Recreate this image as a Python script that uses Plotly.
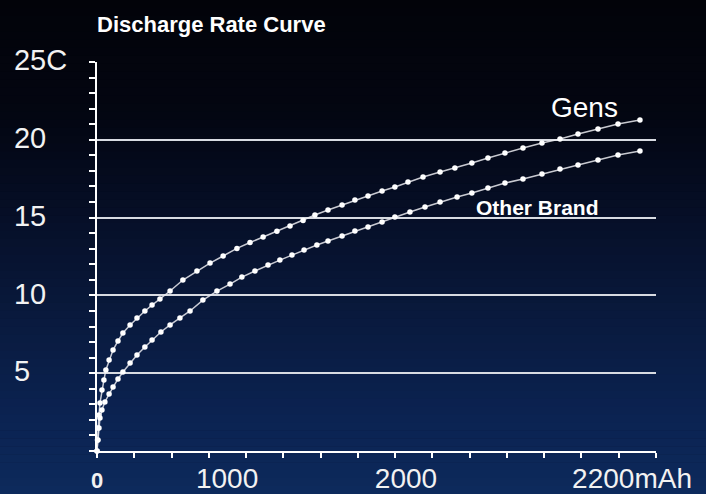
import plotly.graph_objects as go

# ---- data ----
gens_mah = [0, 2, 4, 8, 12, 20, 28, 36, 49, 65, 85, 105, 134, 162, 194, 223, 255, 296,
            348, 405, 458, 511, 567, 620, 673, 729, 782, 835, 883, 936, 993, 1045, 1098,
            1155, 1207, 1260, 1321, 1390, 1450, 1519, 1584, 1653, 1726, 1803, 1876, 1949,
            2030, 2111, 2200]
gens_rate = [0, 0.70, 1.48, 2.31, 3.08, 3.92, 4.56, 5.21, 5.85, 6.49, 7.07, 7.58, 8.10, 8.55,
             9.00, 9.38, 9.77, 10.28, 10.99, 11.57, 12.08, 12.53, 13.02, 13.40, 13.76, 14.12,
             14.46, 14.82, 15.17, 15.49, 15.81, 16.13, 16.39, 16.71, 16.97, 17.29, 17.61, 17.93,
             18.19, 18.51, 18.83, 19.15, 19.47, 19.79, 20.05, 20.37, 20.69, 21.02, 21.27]

other_mah = [0, 4, 8, 12, 20, 32, 49, 65, 85, 105, 134, 162, 194, 223, 259, 296, 336, 377,
             429, 486, 539, 587, 640, 693, 741, 790, 839, 891, 936, 993, 1045, 1098, 1155,
             1207, 1268, 1329, 1390, 1459, 1519, 1584, 1653, 1726, 1803, 1876, 1949, 2030,
             2111, 2200]
other_rate = [0, 0.71, 1.48, 2.12, 2.63, 3.15, 3.66, 4.11, 4.63, 5.08, 5.66, 6.17, 6.68, 7.13,
              7.65, 8.10, 8.55, 9.00, 9.70, 10.28, 10.73, 11.18, 11.57, 11.95, 12.27, 12.59,
              12.92, 13.24, 13.50, 13.82, 14.14, 14.40, 14.72, 15.04, 15.36, 15.68, 16.00,
              16.32, 16.58, 16.90, 17.22, 17.48, 17.80, 18.12, 18.38, 18.70, 19.02, 19.28]

y_tick_vals = [5, 10, 15, 20, 25]
y_tick_text = ["5", "10", "15", "20", "25C"]
x_tick_vals = [0, 527, 1252, 2168]          # label positions as drawn in the picture
x_tick_text = ["0", "1000", "2000", "2200mAh"]

series_names = ["Gens", "Other Brand"]

# ---- layout constants ----
W, H = 706, 494
L, R, T, B = 97, 50, 62, 43
X_MAX = 2265
FONT = "Liberation Sans, Arial, sans-serif"
WHITE = "#f2f2f2"

fig = go.Figure()

line_style = dict(color="rgba(235,235,240,0.85)", width=1.5)
marker_style = dict(color="#ffffff", size=5.5, line=dict(width=0))

fig.add_trace(go.Scatter(x=gens_mah, y=gens_rate, mode="lines+markers",
                         name=series_names[0], line=line_style, marker=marker_style,
                         cliponaxis=False))
fig.add_trace(go.Scatter(x=other_mah, y=other_rate, mode="lines+markers",
                         name=series_names[1], line=line_style, marker=marker_style,
                         cliponaxis=False))

# background vertical gradient (decoration)
stops = [(0, (2, 3, 9)), (120, (3, 6, 18)), (220, (6, 15, 40)),
         (320, (9, 26, 62)), (420, (11, 35, 82)), (494, (13, 42, 92))]
def col_at(py):
    for (p0, c0), (p1, c1) in zip(stops[:-1], stops[1:]):
        if p0 <= py <= p1:
            t = (py - p0) / (p1 - p0)
            return "rgb(%d,%d,%d)" % tuple(round(a + (b - a) * t) for a, b in zip(c0, c1))
    return "rgb(%d,%d,%d)" % stops[-1][1]

pw, ph = W - L - R, H - T - B
shapes = []
n = 62
for i in range(n):
    py0 = H * i / n
    py1 = H * (i + 1) / n + 0.6
    shapes.append(dict(type="rect", xref="paper", yref="paper", layer="below",
                       x0=-L / pw, x1=1 + R / pw,
                       y0=(H - B - py1) / ph, y1=(H - B - py0) / ph,
                       fillcolor=col_at((py0 + py1) / 2), line=dict(width=0)))

ghost = "<span style='color:rgba(0,0,0,0)'>%s</span>"
y_text_aligned = ["5" + ghost % "5C", "10" + ghost % "C", "15" + ghost % "C",
                  "20" + ghost % "C", "25C"]
x_text_styled = ["<b><span style='font-size:22px'>%s</span></b>" % x_tick_text[0]] + x_tick_text[1:]

fig.update_layout(
    width=W, height=H,
    margin=dict(l=L, r=R, t=T, b=B, pad=0),
    paper_bgcolor="rgb(2,3,9)",
    plot_bgcolor="rgba(0,0,0,0)",
    showlegend=False,
    shapes=shapes,
    font=dict(family=FONT, color=WHITE),
    title=dict(text="<b>Discharge Rate Curve</b>", x=97 / W, xanchor="left",
               y=1 - 24 / H, yanchor="middle", yref="container",
               font=dict(size=22, color="#ffffff", family=FONT)),
    xaxis=dict(range=[0, X_MAX], showgrid=False, zeroline=False,
               showline=True, linecolor="#ffffff", linewidth=2,
               tickmode="array", tickvals=x_tick_vals, ticktext=x_text_styled,
               ticks="outside", ticklen=5, tickcolor="rgba(0,0,0,0)",
               ticklabelstandoff=-4,
               tickfont=dict(size=28, color=WHITE, family=FONT),
               minor=dict(tickmode="linear", tick0=0, dtick=X_MAX / 15, ticks="outside",
                          ticklen=5, tickwidth=2, tickcolor="#ffffff", showgrid=False),
               automargin=False, fixedrange=True),
    yaxis=dict(range=[0, 25], showgrid=True, gridcolor="#d8dbe2", gridwidth=2,
               zeroline=False, showline=True, linecolor="#ffffff", linewidth=2,
               tickmode="array", tickvals=y_tick_vals, ticktext=y_text_aligned,
               ticks="outside", ticklen=6, tickwidth=2, tickcolor="#ffffff",
               ticklabelstandoff=16, ticklabelshift=-2,
               tickfont=dict(size=29, color=WHITE, family=FONT),
               minor=dict(tickmode="linear", tick0=0, dtick=1, ticks="outside",
                          ticklen=6, tickwidth=2, tickcolor="#ffffff", showgrid=False),
               automargin=False, fixedrange=True),
    annotations=[
        dict(x=1977, y=22.1, xref="x", yref="y", text=series_names[0], showarrow=False,
             font=dict(size=28, color="#ffffff", family=FONT)),
        dict(x=1783, y=15.68, xref="x", yref="y", text="<b>%s</b>" % series_names[1],
             showarrow=False, font=dict(size=21, color="#ffffff", family=FONT)),
    ],
)

fig.write_html("out.html", config={"displayModeBar": False},
               post_script="document.body.style.margin='0';"
                           "document.body.style.overflow='hidden';")
